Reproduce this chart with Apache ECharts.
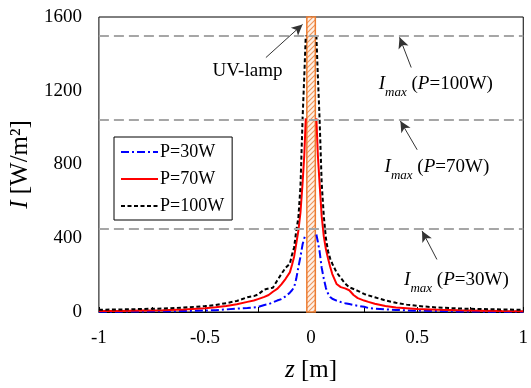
<!DOCTYPE html>
<html>
<head>
<meta charset="utf-8">
<script src="https://cdn.jsdelivr.net/npm/echarts@6/dist/echarts.min.js"></script>
<style>
  html, body { margin: 0; padding: 0; background: #fff; }
  #chart { width: 531px; height: 388px; }
</style>
</head>
<body>
<div id="chart"></div>
<script>
// axial position z [m]
const zs = [-1, -0.9, -0.8, -0.7, -0.6, -0.5, -0.45, -0.4, -0.35, -0.3, -0.27, -0.25, -0.22, -0.2, -0.18, -0.16, -0.14, -0.12, -0.1, -0.09, -0.08, -0.07, -0.06, -0.05, -0.04, -0.032, -0.025,
  0,
  0.025, 0.032, 0.04, 0.05, 0.06, 0.07, 0.08, 0.09, 0.1, 0.12, 0.14, 0.16, 0.18, 0.2, 0.22, 0.25, 0.27, 0.3, 0.35, 0.4, 0.45, 0.5, 0.6, 0.7, 0.8, 0.9, 1];

// intensity I [W/m2]; null inside the lamp
const p30 = [2, 2, 3, 4, 5, 8, 10, 14, 18, 22, 25, 27, 38, 43, 52, 62, 70, 85, 105, 118, 134, 180, 242, 300, 367, 400, 420,
  null,
  420, 380, 330, 240, 180, 130, 100, 82, 72, 62, 54, 48, 43, 38, 34, 28, 22, 18, 14, 11, 9, 7, 5, 3, 2, 2, 1];
const p70 = [5, 6, 8, 10, 14, 20, 26, 33, 42, 55, 62, 70, 82, 92, 110, 125, 150, 180, 215, 255, 300, 370, 440, 540, 700, 850, 1050,
  null,
  1050, 850, 700, 520, 410, 340, 290, 245, 206, 152, 135, 128, 118, 92, 75, 62, 55, 45, 32, 24, 20, 16, 12, 9, 7, 5, 4];
const p100 = [12, 14, 16, 19, 24, 32, 38, 48, 60, 80, 86, 95, 122, 128, 132, 170, 206, 240, 262, 310, 350, 440, 510, 680, 1050, 1280, 1500,
  null,
  1500, 1280, 1050, 700, 520, 400, 330, 290, 262, 215, 185, 155, 134, 125, 115, 98, 90, 80, 63, 50, 40, 33, 24, 19, 16, 14, 12];

const imaxLevels = [450, 1045, 1500];
const imaxPowers = ["30W", "70W", "100W"];
const lampRange = [-0.02, 0.02];

const font = "Liberation Serif";

// hatch pattern for the lamp
const hatch = document.createElement("canvas");
hatch.width = 5;
hatch.height = 5;
const hc = hatch.getContext("2d");
hc.fillStyle = "#fdf1e8";
hc.fillRect(0, 0, 5, 5);
hc.strokeStyle = "#f0945a";
hc.lineWidth = 1.1;
hc.beginPath();
hc.moveTo(0, 5); hc.lineTo(5, 0);
hc.moveTo(-1, 1); hc.lineTo(1, -1);
hc.moveTo(4, 6); hc.lineTo(6, 4);
hc.stroke();

const pair = (vals) => zs.map((z, i) => [z, vals[i]]);

const imaxRich = {
  i: { fontFamily: font, fontSize: 19, fontStyle: "italic", color: "#000" },
  sub: { fontFamily: font, fontSize: 13, fontStyle: "italic", color: "#000", verticalAlign: "bottom", padding: [0, 0, -5, 0] },
  n: { fontFamily: font, fontSize: 19, color: "#000" },
};

// label anchors and arrows for Imax annotations
const imaxText = [[0.685, 172], [0.593, 784], [0.588, 1235]];
const imaxArrows = [
  [[0.593, 285], [0.523, 440]],
  [[0.5, 880], [0.421, 1036]],
  [[0.472, 1326], [0.417, 1490]],
];

const chart = echarts.init(document.getElementById("chart"));
chart.setOption({
  animation: false,
  grid: {
    left: 96, right: 4, top: 17, bottom: 73,
    show: true, borderColor: "#000", borderWidth: 1, backgroundColor: "transparent",
  },
  legend: {
    data: ["P=30W", "P=70W", "P=100W"],
    orient: "vertical",
    left: 114, top: 137,
    borderColor: "#000", borderWidth: 1, borderRadius: 0,
    padding: [6, 8, 5, 6],
    itemWidth: 37, itemHeight: 14, itemGap: 9,
    itemStyle: { opacity: 0 },
    textStyle: { fontFamily: font, fontSize: 18, color: "#000", padding: [0, 0, 0, -3] },
  },
  xAxis: {
    type: "value",
    min: -1, max: 1, interval: 0.25,
    name: "{i|z} [m]",
    nameLocation: "middle",
    nameGap: 46,
    nameTextStyle: {
      fontFamily: font, fontSize: 25, color: "#000",
      rich: { i: { fontFamily: font, fontSize: 25, fontStyle: "italic", color: "#000" } },
    },
    axisLine: { lineStyle: { color: "#000", width: 1 } },
    axisTick: { inside: true, length: 5, lineStyle: { color: "#000" } },
    axisLabel: {
      fontFamily: font, fontSize: 19, color: "#000", margin: 17,
      showMaxLabel: true, showMinLabel: true,
      formatter: (v) => (Math.abs(v * 2 - Math.round(v * 2)) < 1e-9 ? String(v) : ""),
    },
    splitLine: { show: false },
  },
  yAxis: {
    type: "value",
    min: 0, max: 1600, interval: 80,
    name: "{i|I} [W/m²]",
    nameLocation: "middle",
    nameRotate: 90,
    nameGap: 60,
    nameTextStyle: {
      fontFamily: font, fontSize: 25, color: "#000",
      rich: { i: { fontFamily: font, fontSize: 25, fontStyle: "italic", color: "#000" } },
    },
    axisLine: { show: true, lineStyle: { color: "#000", width: 1 } },
    axisTick: { inside: true, length: 4, lineStyle: { color: "#000" } },
    axisLabel: {
      fontFamily: font, fontSize: 19, color: "#000", margin: 17,
      formatter: (v) => (v % 400 === 0 ? String(v) : ""),
    },
    splitLine: { show: false },
  },
  series: [
    {
      name: "P=30W", type: "line", symbol: "none", data: pair(p30), connectNulls: false,
      lineStyle: { color: "#0000ff", width: 2, type: [8, 3, 2, 3] },
      itemStyle: { color: "#0000ff" }, z: 3,
    },
    {
      name: "P=70W", type: "line", symbol: "none", data: pair(p70), connectNulls: false,
      lineStyle: { color: "#ff0000", width: 2 },
      itemStyle: { color: "#ff0000" }, z: 3,
    },
    {
      name: "P=100W", type: "line", symbol: "none", data: pair(p100), connectNulls: false,
      lineStyle: { color: "#000", width: 2, type: [4, 2.5] },
      itemStyle: { color: "#000" }, z: 4,
    },
    {
      name: "lamp", type: "line", data: [], z: 6,
      markArea: {
        silent: true,
        itemStyle: { color: { image: hatch, repeat: "repeat" }, borderColor: "#ed7d31", borderWidth: 1.5 },
        data: [[{ xAxis: lampRange[0], yAxis: 0 }, { xAxis: lampRange[1], yAxis: 1600 }]],
      },
    },
    {
      name: "notes", type: "line", data: [], z: 7,
      markLine: {
        silent: true,
        symbol: ["none", "none"],
        label: { show: false },
        lineStyle: { color: "#a6a6a6", width: 2, type: [10, 5] },
        data: imaxLevels.map((v) => ({ yAxis: v })),
      },
    },
    {
      name: "arrows", type: "line", data: [], z: 8,
      markLine: {
        silent: true,
        symbol: ["none", "arrow"],
        symbolSize: [8, 11],
        label: { show: false },
        lineStyle: { color: "#333", width: 1, type: "solid" },
        data: [[{ coord: [-0.213, 1380] }, { coord: [-0.04, 1560] }]].concat(
          imaxArrows.map((a) => [{ coord: a[0] }, { coord: a[1] }])
        ),
      },
      markPoint: {
        silent: true,
        symbol: "circle",
        symbolSize: 0,
        label: {
          show: true, position: "inside", color: "#000",
          fontFamily: font, fontSize: 19, rich: imaxRich,
        },
        data: [
          { coord: [-0.3, 1305], label: { formatter: "{n|UV-lamp}" } },
        ].concat(imaxText.map((c, i) => ({
          coord: c,
          label: { formatter: "{i|I}{sub|max}{n| (}{i|P}{n|=" + imaxPowers[i] + ")}" },
        }))),
      },
    },
  ],
});
</script>
</body>
</html>
